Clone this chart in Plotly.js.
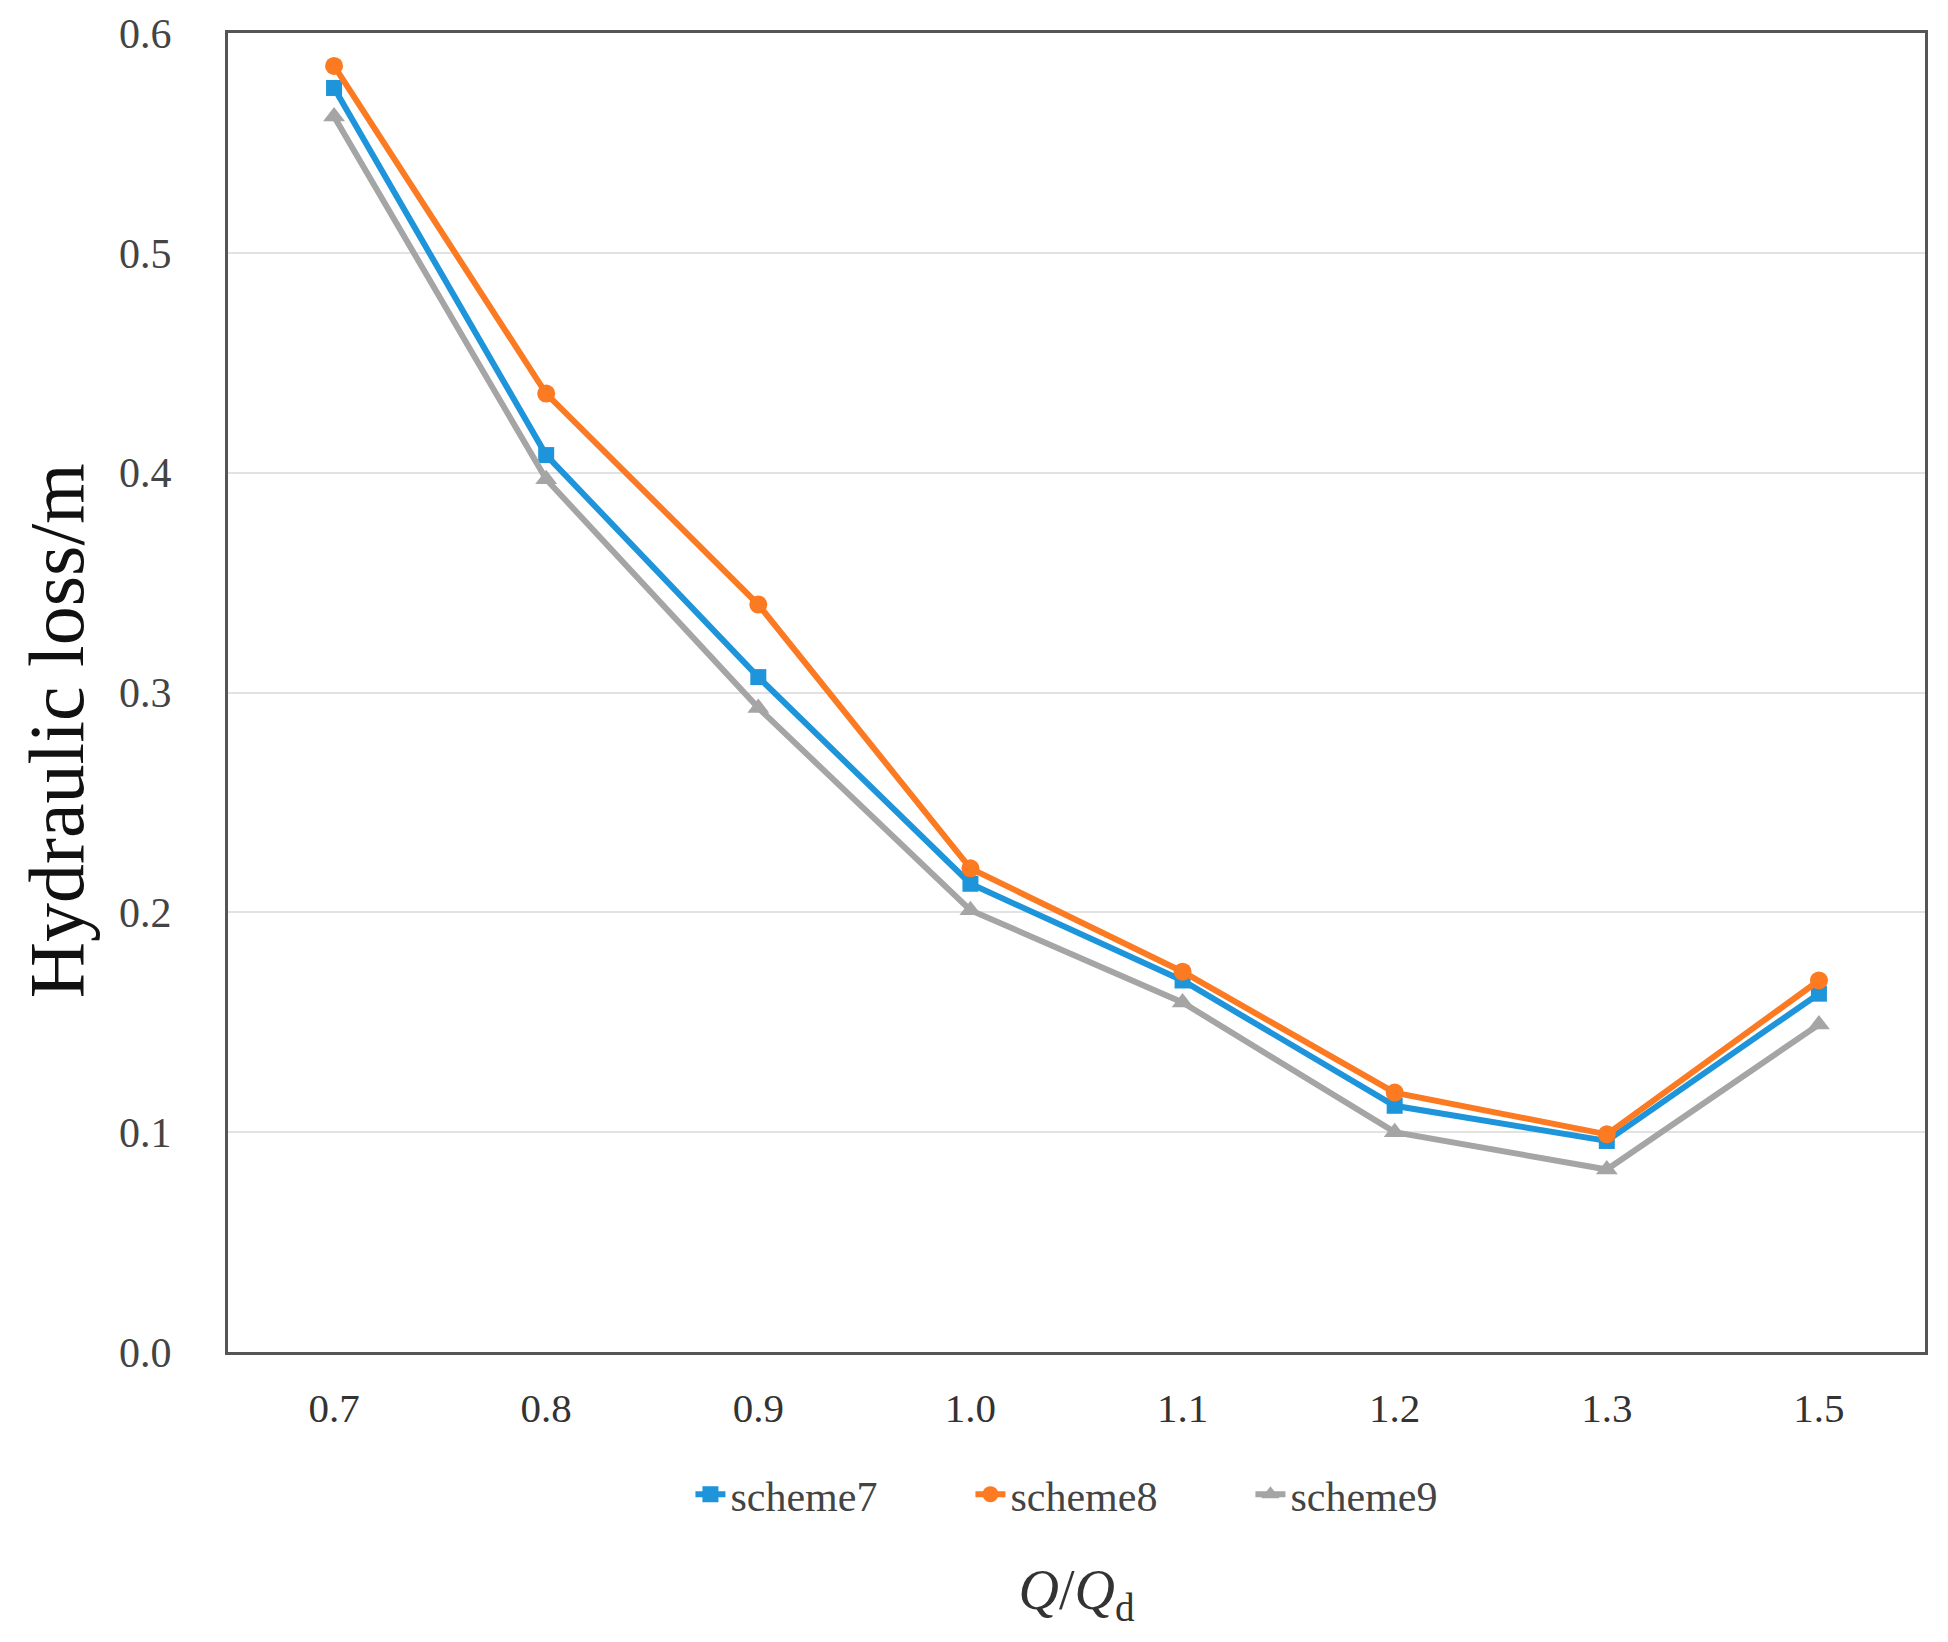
<!DOCTYPE html>
<html>
<head>
<meta charset="utf-8">
<script src="https://cdn.plot.ly/plotly-3.0.1.min.js"></script>
<style>html,body{margin:0;padding:0;background:#fff;}</style>
</head>
<body>
<div id="chart" style="width:1948px;height:1642px;"></div>
<script>
const categories = ["0.7", "0.8", "0.9", "1.0", "1.1", "1.2", "1.3", "1.5"];
const scheme7 = [0.575, 0.408, 0.307, 0.213, 0.169, 0.112, 0.096, 0.163];
const scheme8 = [0.585, 0.436, 0.340, 0.220, 0.173, 0.118, 0.099, 0.169];
const scheme9 = [0.562, 0.397, 0.293, 0.201, 0.159, 0.100, 0.083, 0.149];
const yTicks = [0.0, 0.1, 0.2, 0.3, 0.4, 0.5, 0.6];
const yTickText = ["0.0", "0.1", "0.2", "0.3", "0.4", "0.5", "0.6"];
const yTitle = "Hydraulic loss/m";
const xTitle = "<i>Q</i>/<i>Q</i><sub>d</sub>";

const serif = "Liberation Serif, Times New Roman, serif";

const traces = [
  {name: "scheme7", x: categories, y: scheme7, type: "scatter", mode: "lines+markers",
   line: {color: "#1E95DA", width: 6}, marker: {symbol: "square", size: 16, color: "#1E95DA"}},
  {name: "scheme8", x: categories, y: scheme8, type: "scatter", mode: "lines+markers",
   line: {color: "#FB7A22", width: 6}, marker: {symbol: "circle", size: 18, color: "#FB7A22"}},
  {name: "scheme9", x: categories, y: scheme9, type: "scatter", mode: "lines+markers",
   line: {color: "#A5A5A5", width: 6}, marker: {symbol: "triangle-up", size: 19, color: "#A5A5A5"}}
];

const layout = {
  width: 1948, height: 1642,
  margin: {l: 228, r: 23, t: 33, b: 290},
  paper_bgcolor: "#fff", plot_bgcolor: "#fff",
  font: {family: serif, color: "#333"},
  showlegend: true,
  legend: {orientation: "h", x: 0.52, xanchor: "center", y: -0.108, yanchor: "middle",
           font: {family: serif, size: 42, color: "#444"}, entrywidth: 235, entrywidthmode: "pixels",
           tracegroupgap: 0},
  xaxis: {
    type: "category", range: [-0.5, 7.5],
    showline: true, mirror: true, linecolor: "#555", linewidth: 3,
    showgrid: false, zeroline: false, ticks: "",
    tickfont: {family: serif, size: 41, color: "#333"},
    ticklabelstandoff: 18,
    title: {text: xTitle, font: {family: serif, size: 56, color: "#333"}, standoff: 140}
  },
  yaxis: {
    range: [0, 0.6], tickvals: yTicks, ticktext: yTickText,
    showline: true, mirror: true, linecolor: "#555", linewidth: 3,
    showgrid: true, gridcolor: "#e2e2e2", gridwidth: 2, zeroline: false, ticks: "",
    tickfont: {family: serif, size: 42, color: "#444"},
    ticklabelstandoff: 45
  },
  annotations: [
    {text: yTitle, xref: "paper", yref: "paper", x: -0.101, y: 0.471, xanchor: "center", yanchor: "middle",
     textangle: -90, showarrow: false, font: {family: serif, size: 78, color: "#111"}}
  ]
};

Plotly.newPlot("chart", traces, layout, {displayModeBar: false, staticPlot: true});
</script>
</body>
</html>
